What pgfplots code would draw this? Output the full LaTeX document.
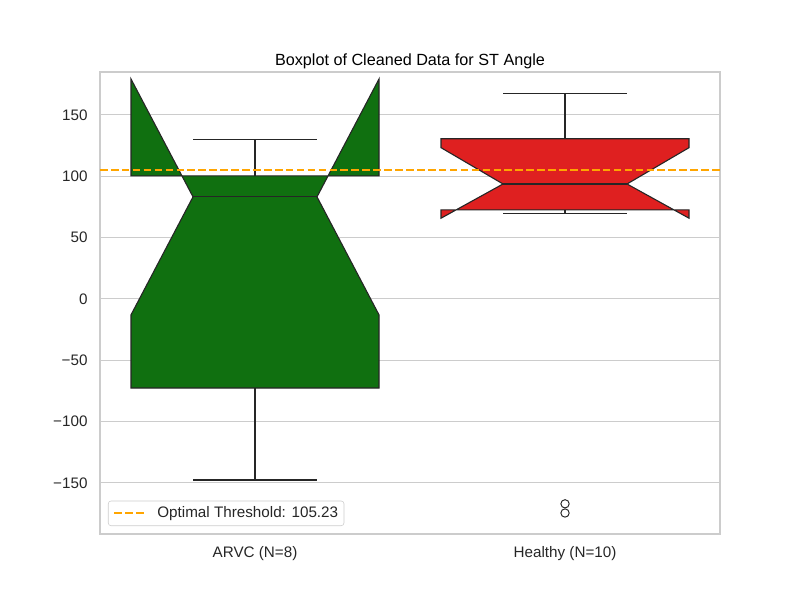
\documentclass[border=0pt]{standalone}
\usepackage{pgfplots}
\pgfplotsset{compat=1.18}
\usepackage{fontspec}
\setmainfont{Liberation Sans}
\definecolor{boxgreen}{RGB}{16,112,16}
\definecolor{boxred}{RGB}{223,32,32}
\definecolor{edge}{RGB}{38,38,38}
\definecolor{gridc}{RGB}{204,204,204}
\definecolor{thr}{RGB}{255,165,0}
\newcommand{\dashseg}{\rule[-0.65pt]{5.5pt}{1.3pt}}
\begin{document}
\begin{tikzpicture}
\begin{axis}[
  at={(0,0)}, anchor=south west,
  scale only axis,
  width=448.1pt, height=333.9pt,
  xmin=-0.5, xmax=1.5, ymin=-191.6, ymax=185,
  xtick={0,1}, xticklabels={ARVC (N=8),Healthy (N=10)},
  ytick={-150,-100,-50,0,50,100,150},
  yticklabels={−150,−100,−50,0,50,100,150},
  major tick length=0pt,
  ymajorgrids, xmajorgrids=false,
  grid style={gridc, line width=0.75pt},
  axis line style={gridc, line width=0.9pt},
  tick label style={font=\fontsize{11}{13}\selectfont, text=black!85},
  yticklabel style={xshift=-5.5pt},
  xticklabel style={yshift=-5.5pt},
  title={Boxplot of Cleaned Data for ST Angle},
  title style={font=\fontsize{11.7}{14}\selectfont, yshift=-7pt},
  legend style={at={(0.0129,0.0173)}, anchor=south west, draw=gridc, rounded corners=2pt, font=\fontsize{11}{13}\selectfont, inner sep=2.2pt, legend cell align=left, text=black!85,
    /tikz/every odd column/.append style={column sep=8pt}},
  clip=true,
]
% ARVC notched box
\addplot[fill=boxgreen, draw=edge, line width=0.8pt, forget plot] coordinates {
  (-0.4,-72.6) (-0.4,-13.0) (-0.2,83.2) (-0.4,179.3) (-0.4,100.3)
  (0.4,100.3) (0.4,179.3) (0.2,83.2) (0.4,-13.0) (0.4,-72.6) (-0.4,-72.6)} -- cycle;
\addplot[edge, line width=0.8pt, forget plot] coordinates {(-0.2,83.2) (0.2,83.2)};
\addplot[edge, line width=0.8pt, forget plot] coordinates {(0,100.3) (0,129.6)};
\addplot[edge, line width=0.8pt, forget plot] coordinates {(-0.2,129.6) (0.2,129.6)};
\addplot[edge, line width=0.8pt, forget plot] coordinates {(0,-72.6) (0,-147.6)};
\addplot[edge, line width=0.8pt, forget plot] coordinates {(-0.2,-147.6) (0.2,-147.6)};
% Healthy notched box
\addplot[fill=boxred, draw=edge, line width=0.8pt, forget plot] coordinates {
  (0.6,72.6) (0.6,65.8) (0.8,93.7) (0.6,123.3) (0.6,130.6)
  (1.4,130.6) (1.4,123.3) (1.2,93.7) (1.4,65.8) (1.4,72.6) (0.6,72.6)} -- cycle;
\addplot[edge, line width=0.8pt, forget plot] coordinates {(0.8,93.7) (1.2,93.7)};
\addplot[edge, line width=0.8pt, forget plot] coordinates {(1,130.6) (1,167.7)};
\addplot[edge, line width=0.8pt, forget plot] coordinates {(0.8,167.7) (1.2,167.7)};
\addplot[edge, line width=0.8pt, forget plot] coordinates {(1,72.6) (1,69.9)};
\addplot[edge, line width=0.8pt, forget plot] coordinates {(0.8,69.9) (1.2,69.9)};
\addplot[only marks, mark=o, mark size=3pt, mark options={draw=edge, line width=0.7pt}, forget plot] coordinates {(1,-167) (1,-174.5)};
% threshold
\addplot[draw=thr, line width=1.1pt, dash pattern=on 5.5pt off 2.4pt,
  legend image code/.code={\node[inner sep=0pt, anchor=west, draw=none, text=thr] at (0pt,0pt) {\hspace{2pt}\textcolor{thr}{\dashseg\hspace{2.4pt}\dashseg\hspace{2.4pt}\dashseg}};}]
  coordinates {(-0.5,105.23) (1.5,105.23)};
\addlegendentry{Optimal Threshold: 105.23}
\end{axis}
\path[use as bounding box] (-72.27pt,-47.70pt) rectangle ++(578.16pt,433.62pt);
\end{tikzpicture}
\end{document}
